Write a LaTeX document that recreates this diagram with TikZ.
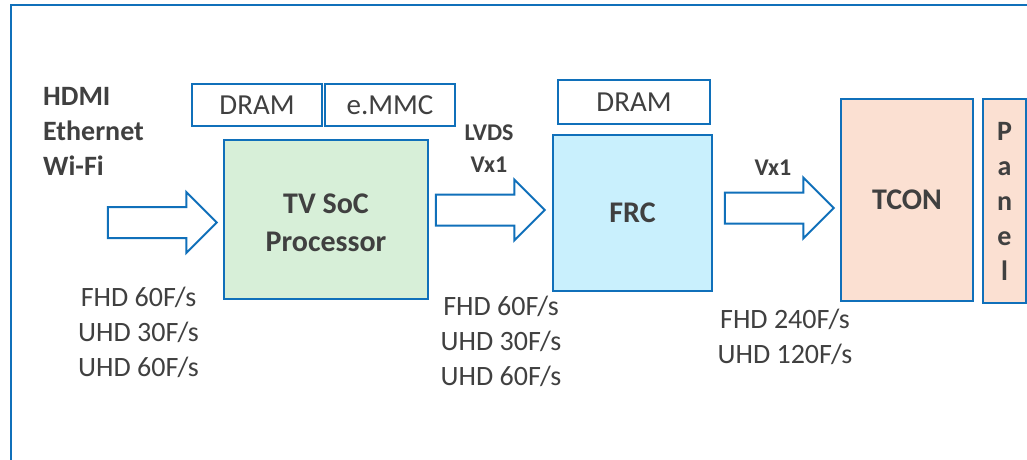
\documentclass[tikz,border=0pt]{standalone}
\usepackage{fontspec}
\setmainfont{Carlito}
\usetikzlibrary{shapes.arrows}
\definecolor{tvblue}{RGB}{16,112,186}
\definecolor{tvtext}{RGB}{64,64,64}
\definecolor{socgreen}{RGB}{215,239,216}
\definecolor{frccyan}{RGB}{201,240,253}
\definecolor{tconpeach}{RGB}{251,224,210}
\tikzset{
  blk/.style={draw=tvblue, line width=2pt, text=tvtext, inner sep=0pt},
  membox/.style={blk, font=\fontsize{29}{35}\selectfont},
  chip/.style={blk, align=center, font=\fontsize{30}{38}\selectfont\bfseries},
  lbl/.style={text=tvtext, align=center, inner sep=0pt, font=\fontsize{28}{35}\selectfont},
  bigarrow/.style={single arrow, draw=tvblue, line width=2pt, fill=white, inner xsep=0pt, inner ysep=14.5pt,
    single arrow head extend=15pt, single arrow tip angle=90, minimum height=109pt}
}
\begin{document}
\begin{tikzpicture}[x=1pt,y=-1pt]
\clip (0,0) rectangle (1027,460);
\fill[white] (0,0) rectangle (1027,460);
\draw[tvblue, line width=2pt] (11,470) |- (1040,5);
\node[membox, minimum width=130, minimum height=42] (dram1) at (257,105) {DRAM};
\node[membox, minimum width=130, minimum height=42] (emmc) at (390,105) {e.MMC};
\node[chip, fill=socgreen, minimum width=204, minimum height=159] (soc) at (326,219.5) {};
\node[text=tvtext, align=center, font=\fontsize{30}{38}\selectfont\bfseries] (soctext) at (326,222.5) {TV SoC\\Processor};
\node[membox, minimum width=152, minimum height=44] (dram2) at (634,102) {DRAM};
\node[chip, fill=frccyan, minimum width=159, minimum height=156] (frc) at (632.5,213) {FRC};
\node[chip, fill=tconpeach, minimum width=132, minimum height=202] (tcon) at (907,200) {TCON};
\node[blk, fill=tconpeach, minimum width=43, minimum height=204, align=center,
  font=\fontsize{28}{35}\selectfont\bfseries] (panel) at (1004.5,201) {P\\a\\n\\e\\l};
\node[bigarrow] (inarrow) at (154.5,222.5) {};
\node[bigarrow] (lvdsarrow) at (482.5,210) {};
\node[bigarrow] (vxarrow) at (771.5,208) {};
\node[lbl, align=left, font=\fontsize{28}{35}\selectfont\bfseries, anchor=west] (src) at (43,131) {HDMI\\Ethernet\\Wi-Fi};
\node[lbl] (rate1) at (138.5,332) {FHD 60F/s\\UHD 30F/s\\UHD 60F/s};
\node[lbl, font=\fontsize{24}{32}\selectfont\bfseries] (lvds) at (489,149) {LVDS\\Vx1};
\node[lbl] (rate2) at (501,341) {FHD 60F/s\\UHD 30F/s\\UHD 60F/s};
\node[lbl, font=\fontsize{24}{32}\selectfont\bfseries] (vx1) at (773,168) {Vx1};
\node[lbl] (rate3) at (785,336.5) {FHD 240F/s\\UHD 120F/s};
\end{tikzpicture}
\end{document}
